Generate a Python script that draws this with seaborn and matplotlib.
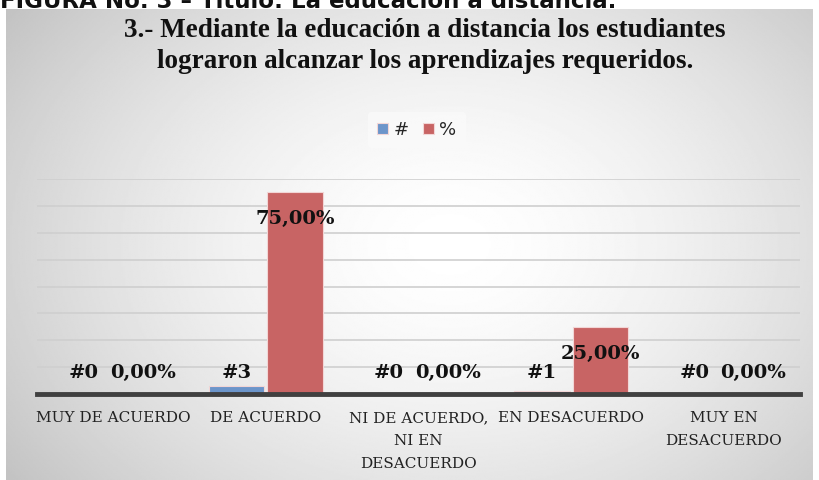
import numpy as np
import pandas as pd
import seaborn as sns
import matplotlib.pyplot as plt

categorias = ["MUY DE ACUERDO", "DE ACUERDO", "NI DE ACUERDO,\nNI EN\nDESACUERDO",
              "EN DESACUERDO", "MUY EN\nDESACUERDO"]
cantidad = [0, 3, 0, 1, 0]
porcentaje = [0.0, 75.0, 0.0, 25.0, 0.0]
series = ["#", "%"]
colores = ["#6C95CA", "#C86464"]

titulo = "3.- Mediante la educación a distancia los estudiantes\nlograron alcanzar los aprendizajes requeridos."
figura = "FIGURA No. 3 – Título: La educación a distancia."

df = pd.DataFrame({
    "cat": categorias * 2,
    "serie": ["#"] * 5 + ["%"] * 5,
    "valor": cantidad + porcentaje,
})

sns.set_style("white")
W, H = 820, 480
fig = plt.figure(figsize=(W / 100, H / 100), dpi=100)
fig.patch.set_facecolor("white")

# fondo del grafico con degradado radial
bg = fig.add_axes([6 / W, 0, (813 - 6) / W, (H - 9) / H])
yy, xx = np.mgrid[0:1:300j, 0:1:500j]
r = np.sqrt(((xx - 0.55) / 0.75) ** 2 + ((yy - 0.5) / 0.95) ** 2)
shade = 1 - 0.28 * np.clip(r, 0, 1.3) ** 1.6
bg.imshow(shade, cmap="gray", vmin=0, vmax=1, aspect="auto", extent=[0, 1, 0, 1])
bg.set_axis_off()

fig.text(0.0, 1 - 7.5 / H, figura, ha="left", va="baseline", fontsize=16.5,
         fontweight="bold", family="DejaVu Sans", color="#111111")

ax = fig.add_axes([37 / W, (H - 394) / H, (800 - 37) / W, (394 - 179) / H])
ax.patch.set_alpha(0)
sns.barplot(data=df, x="cat", y="valor", hue="serie", palette=colores,
            saturation=1, width=0.77, gap=0.05, ax=ax, edgecolor="#F2D6D6",
            linewidth=0.8, legend=True)
ax.set_ylim(0, 80)
ax.set_xlim(-0.5, 4.5)
ax.set_yticks(np.arange(10, 81, 10))
ax.yaxis.grid(True, color="#CFCFCF", lw=1.2)
ax.set_axisbelow(True)
ax.tick_params(axis="y", left=False, labelleft=False)
ax.tick_params(axis="x", bottom=False, pad=9)
for s in ["top", "right", "left"]:
    ax.spines[s].set_visible(False)
ax.spines["bottom"].set_color("#404040")
ax.spines["bottom"].set_linewidth(3.5)
ax.set_xlabel("")
ax.set_ylabel("")
for lab in ax.get_xticklabels():
    lab.set_family("DejaVu Serif")
    lab.set_fontsize(11)
    lab.set_color("#222222")
    lab.set_verticalalignment("top")
    lab.set_multialignment("center")
    lab.set_linespacing(1.8)

# etiquetas de datos
off = 0.77 / 4
for i in range(len(categorias)):
    ax.text(i - off, 7.8, f"#{cantidad[i]}", ha="center", va="center",
            fontsize=14, fontweight="bold", family="DejaVu Serif", color="#111111")
    p = porcentaje[i]
    ypos = p - 10 if p > 0 else 7.8
    ax.text(i + off, ypos, f"{p:.2f}%".replace(".", ","), ha="center", va="center",
            fontsize=14, fontweight="bold", family="DejaVu Serif", color="#111111")

leg = ax.legend(loc="center", bbox_to_anchor=(417 / W, 1 - 130 / H),
                bbox_transform=fig.transFigure, ncol=2, frameon=True,
                handlelength=0.6, handleheight=0.6, handletextpad=0.3,
                columnspacing=0.8, fontsize=13, borderpad=0.5)
leg.get_frame().set_facecolor("#FAFAFA")
leg.get_frame().set_edgecolor("none")

fig.text(425 / W, 1 - 46 / H, titulo, ha="center", va="center", fontsize=19.5,
         fontweight="bold", family="Liberation Serif", color="#111111",
         linespacing=1.3)

fig.savefig("out.png", dpi=100)
